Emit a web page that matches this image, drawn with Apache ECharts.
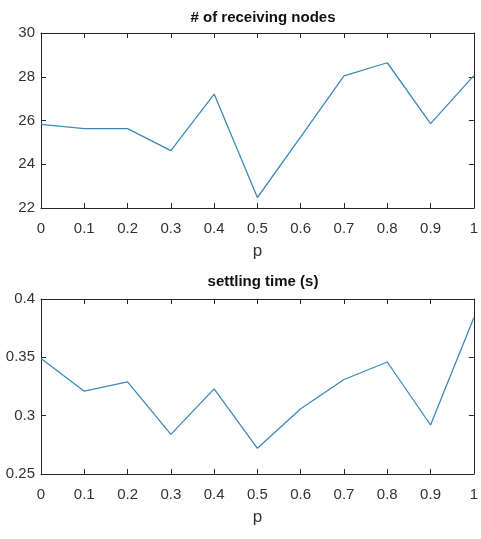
<!DOCTYPE html>
<html>
<head>
<meta charset="utf-8">
<script src="https://cdn.jsdelivr.net/npm/echarts@6/dist/echarts.min.js"></script>
<style>
html,body{margin:0;padding:0;background:#fff;}
#chart{width:481px;height:539px;}
</style>
</head>
<body>
<div id="chart"></div>
<script>
const pValues = [0, 0.1, 0.2, 0.3, 0.4, 0.5, 0.6, 0.7, 0.8, 0.9, 1];
const receivingNodes = [25.82, 25.63, 25.63, 24.62, 27.21, 22.48, 25.25, 28.04, 28.64, 25.86, 28.05];
const settlingTime = [0.349, 0.321, 0.329, 0.284, 0.323, 0.272, 0.306, 0.331, 0.346, 0.292, 0.384];
const titleTop = '# of receiving nodes';
const titleBottom = 'settling time (s)';
const xName = 'p';

const axisColor = '#262626';
const labelColor = '#333333';
const lineColor = '#3d89b9';
const font = 'Liberation Sans, Arial, sans-serif';

function pairs(xs, ys){ return xs.map((x,i)=>[x, ys[i]]); }

const chart = echarts.init(document.getElementById('chart'), null, {renderer:'canvas'});

const grids = [
  {left:41, top:33, width:435, height:175, show:false},
  {left:41, top:299, width:435, height:175, show:false}
];

function xAxes(gi){
  const base = {
    type:'value', gridIndex:gi, min:0, max:1, interval:0.1,
    splitLine:{show:false},
    axisLine:{show:true, onZero:false, lineStyle:{color:axisColor, width:1}},
    axisTick:{show:true, inside:true, length:5, lineStyle:{color:axisColor}}
  };
  return [
    Object.assign({}, base, {
      position:'bottom',
      name:xName, nameLocation:'middle', nameGap:35,
      nameTextStyle:{color:labelColor, fontSize:17, fontFamily:font},
      axisLabel:{show:true, color:labelColor, fontSize:15, fontFamily:font, margin:13}
    }),
    Object.assign({}, base, {position:'top', axisLabel:{show:false}})
  ];
}
function yAxes(gi, min, max, interval){
  const base = {
    type:'value', gridIndex:gi, min:min, max:max, interval:interval,
    splitLine:{show:false},
    axisLine:{show:true, onZero:false, lineStyle:{color:axisColor, width:1}},
    axisTick:{show:true, inside:true, length:5, lineStyle:{color:axisColor}}
  };
  return [
    Object.assign({}, base, {position:'left',
      axisLabel:{show:true, color:labelColor, fontSize:15, fontFamily:font, margin:6}}),
    Object.assign({}, base, {position:'right', axisLabel:{show:false}})
  ];
}

const option = {
  backgroundColor:'#ffffff',
  animation:false,
  title:[
    {text:titleTop, left:258, top:5, textAlign:'center',
     textStyle:{fontSize:15, fontWeight:'bold', color:'#111111', fontFamily:font}},
    {text:titleBottom, left:258, top:269, textAlign:'center',
     textStyle:{fontSize:15, fontWeight:'bold', color:'#111111', fontFamily:font}}
  ],
  grid:grids,
  xAxis:[...xAxes(0), ...xAxes(1)],
  yAxis:[...yAxes(0, 22, 30, 2), ...yAxes(1, 0.25, 0.4, 0.05)],
  series:[
    {type:'line', xAxisIndex:0, yAxisIndex:0, data:pairs(pValues, receivingNodes),
     showSymbol:false, symbol:'none', lineStyle:{color:lineColor, width:1.3}},
    {type:'line', xAxisIndex:2, yAxisIndex:2, data:pairs(pValues, settlingTime),
     showSymbol:false, symbol:'none', lineStyle:{color:lineColor, width:1.3}}
  ]
};
chart.setOption(option);
</script>
</body>
</html>
